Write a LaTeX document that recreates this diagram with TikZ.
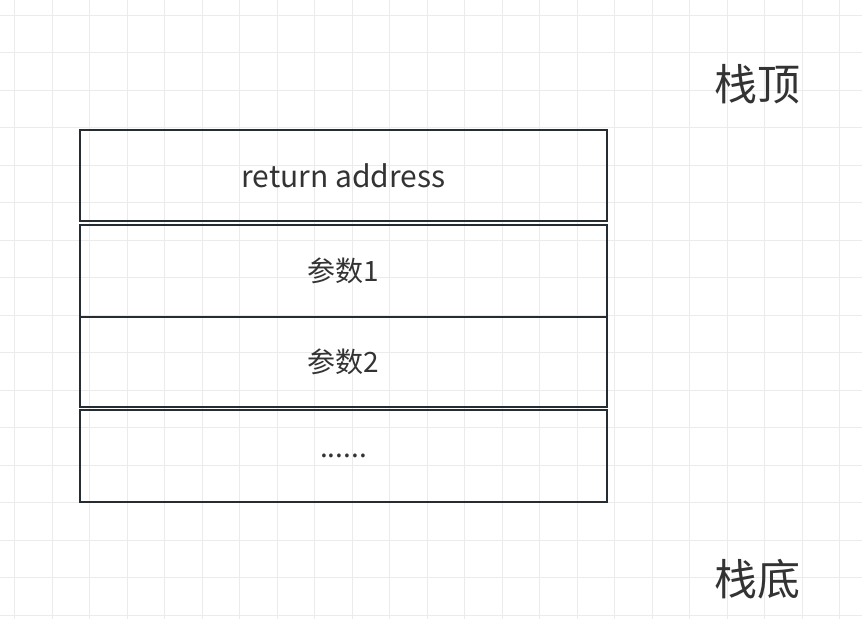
\documentclass[tikz,border=0pt]{standalone}
\usepackage{fontspec}
\setmainfont{Noto Sans CJK SC}
\usepackage{tikz}
\definecolor{gridc}{RGB}{235,235,235}
\definecolor{boxc}{RGB}{38,45,50}
\definecolor{textc}{RGB}{51,51,51}
\tikzset{
  cell/.style={draw=boxc, line width=2.5pt, minimum width=527pt, inner sep=0pt, font=\fontsize{28}{32}\selectfont, text=textc},
  side/.style={font=\fontsize{43}{48}\selectfont, text=textc}
}
\begin{document}
\begin{tikzpicture}[x=1pt,y=-1pt]
    \useasboundingbox (0,0) rectangle (862,619);
    % grid
    \foreach \i in {0,...,22} {
        \draw[gridc, line width=1pt] (14.5+\i*37.5,0) -- (14.5+\i*37.5,619);
    }
    \foreach \j in {0,...,16} {
        \draw[gridc, line width=1pt] (0,15+\j*37.5) -- (862,15+\j*37.5);
    }

    % stack cells
    \node[cell, minimum height=91pt, font=\fontsize{30}{34}\selectfont] (ret) at (343.5,175.5) {return address};
    \node[cell, minimum height=92pt] (argA) at (343.5,271) {参数1};
    \node[cell, minimum height=90pt] (argB) at (343.5,362) {参数2};
    \node[cell, minimum height=92pt] (rest) at (343.5,456) {......};

    % labels
    \node[side] (top) at (757,84) {栈顶};
    \node[side] (bottom) at (757,579) {栈底};
\end{tikzpicture}
\end{document}
